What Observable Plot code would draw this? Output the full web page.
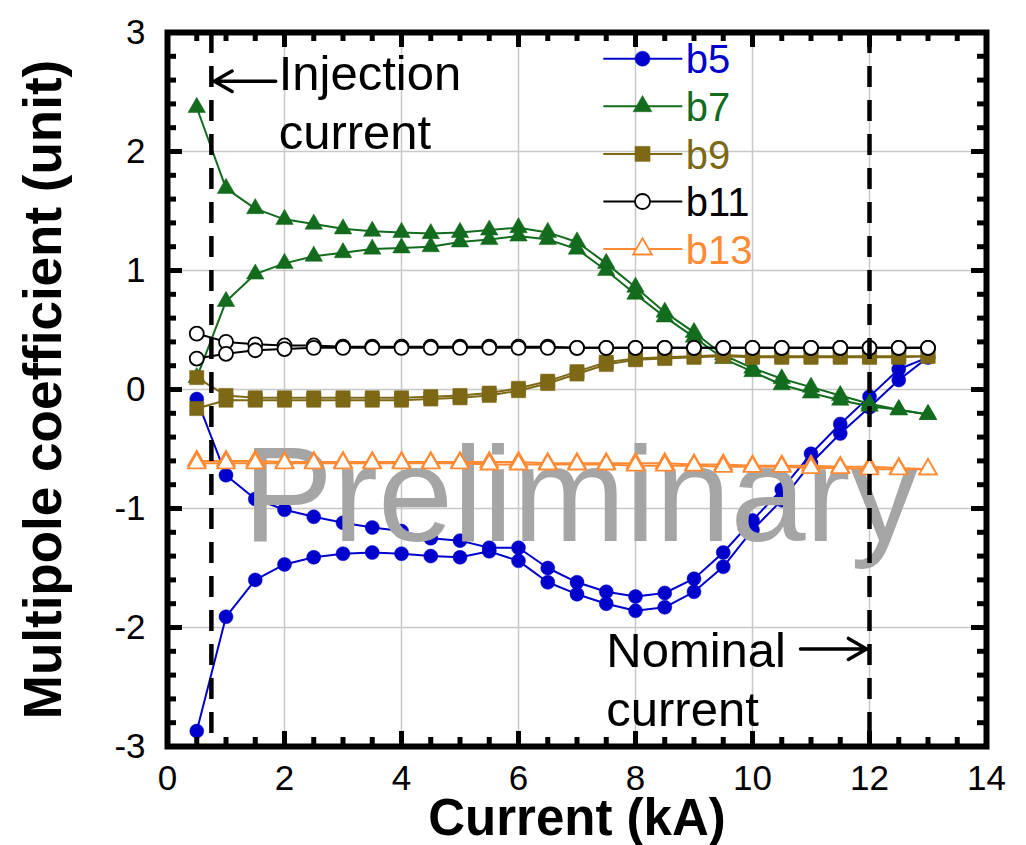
<!DOCTYPE html>
<html>
<head>
<meta charset="utf-8">
<script src="https://cdn.jsdelivr.net/npm/d3@7"></script>
<script src="https://cdn.jsdelivr.net/npm/@observablehq/plot@0.6"></script>
<style>
  html, body { margin: 0; padding: 0; background: #fff; }
  #chart svg { display: block; }
</style>
</head>
<body>
<div id="chart"></div>
<script>
// ---- data ----
const current = [0.5,1,1.5,2,2.5,3,3.5,4,4.5,5,5.5,6,6.5,7,7.5,8,8.5,9,9.5,10,10.5,11,11.5,12,12.5,13];

const b5Upper  = [-0.08,-0.72,-0.92,-1.01,-1.07,-1.12,-1.16,-1.19,-1.25,-1.27,-1.33,-1.33,-1.50,-1.62,-1.70,-1.74,-1.71,-1.59,-1.37,-1.10,-0.84,-0.54,-0.29,-0.06,0.17,0.27];
const b5Lower  = [-2.87,-1.91,-1.60,-1.47,-1.41,-1.38,-1.37,-1.38,-1.40,-1.41,-1.36,-1.44,-1.62,-1.72,-1.80,-1.86,-1.83,-1.70,-1.49,-1.18,-0.93,-0.62,-0.37,-0.15,0.08,0.27];
const b7Upper  = [2.37,1.69,1.52,1.43,1.39,1.35,1.33,1.32,1.31,1.32,1.34,1.36,1.32,1.24,1.06,0.86,0.65,0.48,0.29,0.18,0.09,0.02,-0.05,-0.12,-0.17,-0.21];
const b7Lower  = [0.10,0.74,0.97,1.06,1.12,1.15,1.18,1.19,1.20,1.24,1.26,1.29,1.26,1.18,1.00,0.80,0.61,0.44,0.26,0.15,0.04,-0.03,-0.09,-0.14,-0.17,-0.21];
const b9Upper  = [0.10,-0.05,-0.07,-0.07,-0.07,-0.07,-0.07,-0.07,-0.06,-0.05,-0.03,0.01,0.07,0.15,0.23,0.26,0.27,0.28,0.29,0.28,0.28,0.28,0.28,0.28,0.28,0.28];
const b9Lower  = [-0.16,-0.09,-0.09,-0.09,-0.09,-0.09,-0.09,-0.09,-0.08,-0.07,-0.05,-0.01,0.05,0.13,0.21,0.25,0.26,0.27,0.28,0.27,0.27,0.27,0.27,0.27,0.27,0.28];
const b11Upper = [0.47,0.40,0.38,0.37,0.37,0.36,0.36,0.36,0.36,0.36,0.36,0.36,0.36,0.35,0.35,0.35,0.35,0.35,0.35,0.35,0.35,0.35,0.35,0.35,0.35,0.35];
const b11Lower = [0.26,0.30,0.33,0.34,0.35,0.35,0.35,0.35,0.35,0.35,0.35,0.35,0.35,0.35,0.35,0.35,0.35,0.35,0.35,0.35,0.35,0.35,0.35,0.35,0.35,0.35];
const b13Upper = [-0.60,-0.60,-0.60,-0.61,-0.61,-0.61,-0.61,-0.61,-0.61,-0.61,-0.61,-0.61,-0.62,-0.62,-0.62,-0.62,-0.62,-0.63,-0.63,-0.64,-0.64,-0.64,-0.65,-0.65,-0.66,-0.67];
const b13Lower = [-0.62,-0.62,-0.62,-0.62,-0.62,-0.62,-0.62,-0.62,-0.62,-0.62,-0.63,-0.63,-0.63,-0.63,-0.63,-0.64,-0.64,-0.64,-0.65,-0.65,-0.65,-0.66,-0.66,-0.67,-0.67,-0.67];

const seriesNames = ["b5","b7","b9","b11","b13"];
const upperBranches = [b5Upper, b7Upper, b9Upper, b11Upper, b13Upper];
const lowerBranches = [b5Lower, b7Lower, b9Lower, b11Lower, b13Lower];

// tick labels / tick positions
const xTickLabels = [0,2,4,6,8,10,12,14];
const yTickLabels = [-3,-2,-1,0,1,2,3];
const xMinorTicks = [0.5,1,1.5,2.5,3,3.5,4.5,5,5.5,6.5,7,7.5,8.5,9,9.5,10.5,11,11.5,12.5,13,13.5];
const yMinorTicks = [-2.8,-2.6,-2.4,-2.2,-1.8,-1.6,-1.4,-1.2,-0.8,-0.6,-0.4,-0.2,0.2,0.4,0.6,0.8,1.2,1.4,1.6,1.8,2.2,2.4,2.6,2.8];

// annotations
const injectionCurrent = 0.75;
const nominalCurrent = 12;

// ---- styles ----
const colors  = ["#0000cd", "#136b1d", "#7d6816", "#000000", "#ff8a33"];
const symbols = ["circle", "triangle", "square", "circle", "triangle"];
const filled  = [true, true, true, false, false];
const radii   = [7, 6.5, 8, 7, 6.5];

const rows = [];
seriesNames.forEach((name, i) => {
  current.forEach((x, j) => {
    rows.push({series: name, branch: "up", x, y: upperBranches[i][j]});
    rows.push({series: name, branch: "down", x, y: lowerBranches[i][j]});
  });
});

function seriesMarks(i) {
  const d = rows.filter(r => r.series === seriesNames[i]);
  return [
    Plot.line(d, {x: "x", y: "y", z: "branch", stroke: colors[i], strokeWidth: 2}),
    Plot.dot(d, {x: "x", y: "y", symbol: symbols[i], r: radii[i],
      fill: filled[i] ? colors[i] : "white", stroke: colors[i],
      strokeWidth: filled[i] ? 0.5 : 1.8})
  ];
}

// legend (inside plot, data coordinates)
const legendRows = seriesNames.map((name, i) => ({name, i, y: 2.78 - 0.4 * i}));
const legendMarks = legendRows.flatMap(({name, i, y}) => [
  Plot.link([0], {x1: 7.45, x2: 8.8, y1: y, y2: y, stroke: colors[i], strokeWidth: 2}),
  Plot.dot([0], {x: 8.12, y, symbol: symbols[i], r: radii[i] + 0.5,
    fill: filled[i] ? colors[i] : "white", stroke: colors[i], strokeWidth: filled[i] ? 0.5 : 1.8}),
  Plot.text([name], {x: 8.86, y, text: d => d, fill: colors[i], fontSize: 40,
    textAnchor: "start", lineAnchor: "middle", dy: 2})
]);

const tickW = 5;
const majorLen = 15, minorLen = 9;
function edgeTicks(xs, ys) {
  return [
    Plot.ruleX(xs.vals, {x: d => d, y1: -3, y2: -3, insetTop: -xs.len, stroke: "black", strokeWidth: tickW}),
    Plot.ruleX(xs.vals, {x: d => d, y1: 3, y2: 3, insetBottom: -xs.len, stroke: "black", strokeWidth: tickW}),
    Plot.ruleY(ys.vals, {y: d => d, x1: 0, x2: 0, insetRight: -ys.len, stroke: "black", strokeWidth: tickW}),
    Plot.ruleY(ys.vals, {y: d => d, x1: 14, x2: 14, insetLeft: -ys.len, stroke: "black", strokeWidth: tickW})
  ];
}

const chart = Plot.plot({
  width: 1026,
  height: 845,
  marginLeft: 167,
  marginRight: 40,
  marginTop: 32,
  marginBottom: 99,
  style: {fontFamily: "'Liberation Sans', Arial, sans-serif", background: "white", overflow: "visible", color: "black"},
  x: {domain: [0, 14]},
  y: {domain: [-3, 3]},
  marks: [
    // grid
    Plot.ruleX(xTickLabels, {stroke: "#c8c8c8", strokeWidth: 1.5}),
    Plot.ruleY(yTickLabels, {stroke: "#c8c8c8", strokeWidth: 1.5}),
    // data
    ...seriesMarks(0),
    ...seriesMarks(1),
    ...seriesMarks(2),
    ...seriesMarks(3),
    // watermark
    Plot.text(["Preliminary"], {x: 7.06, y: -1.27, text: d => d, fontSize: 135,
      fill: "#a5a5a5", textAnchor: "middle", lineAnchor: "bottom"}),
    ...seriesMarks(4),
    // legend
    ...legendMarks,
    // reference lines and annotations
    Plot.ruleX([injectionCurrent, nominalCurrent], {stroke: "black", strokeWidth: 4.5, strokeDasharray: "21,13"}),
    Plot.arrow([0], {x1: 1.85, y1: 2.59, x2: 0.8, y2: 2.59, stroke: "black", strokeWidth: 3.5, headLength: 9}),
    Plot.text(["Injection\ncurrent"], {x: 1.9, y: 2.02, text: d => d, fontSize: 49, lineHeight: 1.2,
      textAnchor: "start", lineAnchor: "bottom", fill: "black"}),
    Plot.arrow([0], {x1: 10.82, y1: -2.18, x2: 11.95, y2: -2.18, stroke: "black", strokeWidth: 3.5, headLength: 9}),
    Plot.text(["Nominal\ncurrent"], {x: 7.5, y: -2.83, text: d => d, fontSize: 49, lineHeight: 1.2,
      textAnchor: "start", lineAnchor: "bottom", fill: "black"}),
    // ticks, frame
    ...edgeTicks({vals: xTickLabels, len: majorLen}, {vals: yTickLabels, len: majorLen}),
    ...edgeTicks({vals: xMinorTicks, len: minorLen}, {vals: yMinorTicks, len: minorLen}),
    Plot.frame({stroke: "black", strokeWidth: 6}),
    // axes
    Plot.axisX(xTickLabels, {anchor: "bottom", tickSize: 0, tickPadding: 19, fontSize: 35,
      tickFormat: d => String(d), label: null}),
    Plot.axisY(yTickLabels, {anchor: "left", tickSize: 0, tickPadding: 22, fontSize: 35,
      tickFormat: d => String(d), label: null}),
    Plot.text(["Current (kA)"], {frameAnchor: "bottom", dy: 88, text: d => d, fontSize: 51,
      fontWeight: "bold", lineAnchor: "bottom", textAnchor: "middle", fill: "black"}),
    Plot.text(["Multipole coefficient (unit)"], {frameAnchor: "left", dx: -123, rotate: -90, text: d => d,
      fontSize: 53, fontWeight: "bold", lineAnchor: "middle", textAnchor: "middle", fill: "black"})
  ]
});

document.getElementById("chart").appendChild(chart);
</script>
</body>
</html>
